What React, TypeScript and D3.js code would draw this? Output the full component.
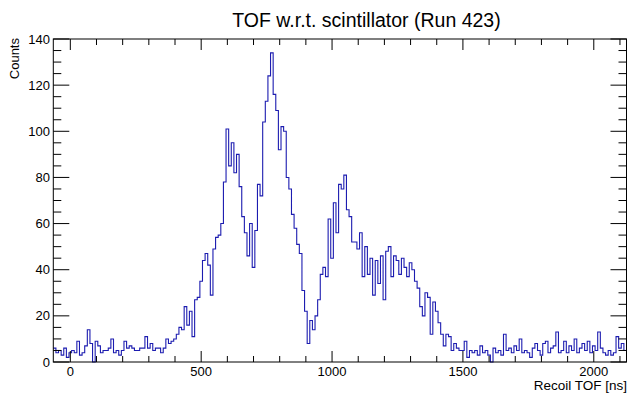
import React from "react";
import * as d3 from "d3";

const TITLE = "TOF w.r.t. scintillator (Run 423)";
const X_LABEL = "Recoil TOF [ns]";
const Y_LABEL = "Counts";

const X_MIN = -65;
const X_MAX = 2125;
const BIN_WIDTH = 10;
const Y_MAX = 140;

const xMajorTicks = [0, 500, 1000, 1500, 2000];
const yMajorTicks = [0, 20, 40, 60, 80, 100, 120, 140];

// bin contents, 10 ns bins starting at -65 ns
const counts: number[] = [
  6, 4, 5, 3, 6, 2, 4, 5, 4, 9,
  3, 4, 7, 14, 8, 0, 9, 7, 4, 5,
  5, 6, 10, 4, 5, 3, 5, 9, 6, 7,
  6, 5, 5, 6, 6, 11, 6, 8, 5, 6,
  6, 4, 6, 10, 8, 9, 10, 12, 15, 14,
  24, 16, 22, 11, 27, 28, 35, 44, 47, 42,
  29, 49, 54, 55, 60, 78, 101, 85, 95, 82,
  90, 76, 63, 56, 46, 60, 41, 57, 77, 72,
  104, 113, 124, 134, 116, 109, 92, 102, 100, 80,
  75, 64, 58, 51, 47, 31, 22, 8, 18, 14,
  20, 27, 38, 41, 37, 62, 45, 69, 56, 77,
  75, 81, 66, 63, 52, 52, 49, 56, 37, 50,
  38, 45, 29, 44, 34, 46, 27, 48, 50, 37,
  46, 44, 38, 45, 41, 37, 43, 40, 35, 32,
  24, 20, 30, 28, 12, 26, 22, 17, 12, 7,
  12, 11, 5, 8, 6, 5, 5, 9, 2, 5,
  4, 5, 3, 7, 4, 5, 3, 0, 6, 4,
  5, 3, 12, 5, 6, 4, 7, 5, 10, 4,
  5, 4, 2, 6, 8, 5, 3, 8, 9, 4,
  6, 7, 13, 4, 5, 9, 4, 7, 5, 10,
  4, 6, 8, 5, 9, 4, 7, 5, 13, 6,
  4, 3, 5, 3, 4, 11, 6, 8, 5,
];

const W = 628;
const H = 393;
const L = 53.3;
const R = 626.5;
const T = 39;
const B = 362;
const FONT = "'Liberation Sans', Arial, Helvetica, sans-serif";
const LINE = "#1c1cb0";

export default function App() {
  const x = d3.scaleLinear().domain([X_MIN, X_MAX]).range([L, R]);
  const y = d3.scaleLinear().domain([0, Y_MAX]).range([B, T]);

  const pts: [number, number][] = counts.map((c, i) => [X_MIN + i * BIN_WIDTH, c]);
  pts.push([X_MIN + counts.length * BIN_WIDTH, counts[counts.length - 1]]);
  const line = d3
    .line<[number, number]>()
    .x((d) => x(d[0]))
    .y((d) => y(d[1]))
    .curve(d3.curveStepAfter);

  const xMinor = d3.range(0, X_MAX + 1, 100).filter((v) => !xMajorTicks.includes(v));
  const yMinor = d3.range(0, Y_MAX + 1, 5).filter((v) => !yMajorTicks.includes(v));

  const xMajLen = 11, xMinLen = 6, yMajLen = 16, yMinLen = 8;

  return (
    <svg width={W} height={H} style={{ position: "absolute", left: 0, top: 0, background: "#fff" }}>
      <rect x={0} y={0} width={W} height={H} fill="#fff" />
      <text x={366.5} y={27} textAnchor="middle" fontFamily={FONT} fontSize={19.5} fill="#000">
        {TITLE}
      </text>
      <path d={line(pts) || ""} fill="none" stroke={LINE} strokeWidth={1.1} />
      <rect x={L} y={T} width={R - L} height={B - T} fill="none" stroke="#000" strokeWidth={1} />
      <g stroke="#000" strokeWidth={1}>
        {xMajorTicks.map((v) => (
          <g key={"xM" + v}>
            <line x1={x(v)} x2={x(v)} y1={B} y2={B - xMajLen} />
            <line x1={x(v)} x2={x(v)} y1={T} y2={T + xMajLen} />
          </g>
        ))}
        {xMinor.map((v) => (
          <g key={"xm" + v}>
            <line x1={x(v)} x2={x(v)} y1={B} y2={B - xMinLen} />
            <line x1={x(v)} x2={x(v)} y1={T} y2={T + xMinLen} />
          </g>
        ))}
        {yMajorTicks.map((v) => (
          <g key={"yM" + v}>
            <line x1={L} x2={L + yMajLen} y1={y(v)} y2={y(v)} />
            <line x1={R} x2={R - yMajLen} y1={y(v)} y2={y(v)} />
          </g>
        ))}
        {yMinor.map((v) => (
          <g key={"ym" + v}>
            <line x1={L} x2={L + yMinLen} y1={y(v)} y2={y(v)} />
            <line x1={R} x2={R - yMinLen} y1={y(v)} y2={y(v)} />
          </g>
        ))}
      </g>
      <g fontFamily={FONT} fontSize={13} fill="#000">
        {xMajorTicks.map((v) => (
          <text key={"xl" + v} x={x(v)} y={375.5} textAnchor="middle">
            {v}
          </text>
        ))}
        {yMajorTicks.map((v) => (
          <text key={"yl" + v} x={50} y={y(v) + 4.6} textAnchor="end">
            {v}
          </text>
        ))}
        <text x={627} y={390} textAnchor="end" fontSize={13.5}>
          {X_LABEL}
        </text>
        <text transform={`translate(18.5, 38) rotate(-90)`} textAnchor="end">
          {Y_LABEL}
        </text>
      </g>
    </svg>
  );
}
